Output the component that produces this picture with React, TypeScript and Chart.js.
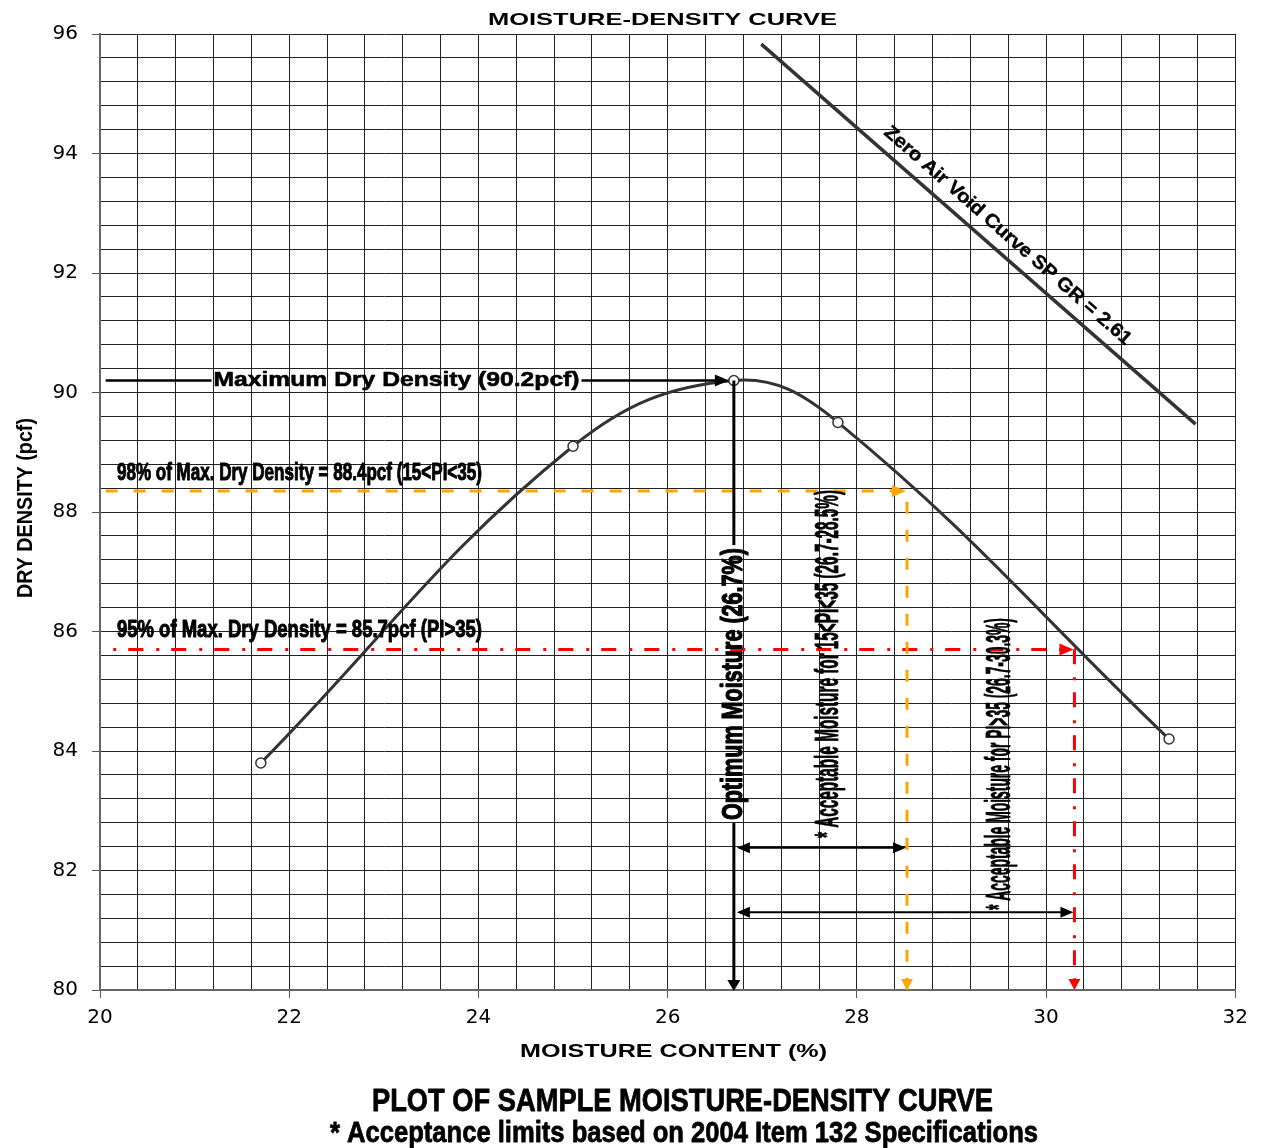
import React, { useEffect, useRef } from 'react';
import { Chart, registerables } from 'chart.js';

Chart.register(...registerables);

// ---- data ----
const moisture = [21.7, 25.0, 26.7, 27.8, 31.3];
const dryDensity = [83.8, 89.1, 90.2, 89.5, 84.2];
const zavMoisture = [26.99, 31.58];
const zavDensity = [95.83, 89.47];
const xTickLabels = [20, 22, 24, 26, 28, 30, 32];
const yTickLabels = [80, 82, 84, 86, 88, 90, 92, 94, 96];
const maxDryDensity = 90.2;
const optimumMoisture = 26.7;
const density98 = 88.35;
const density95 = 85.7;
const moistureLimit98 = 28.53;
const moistureLimit95 = 30.3;
const lineStart98 = 20.06;
const lineStart95 = 20.14;
const maxLineStart = 20.06;
const arrowRowUpper = 82.38;
const arrowRowLower = 81.3;

const FONT = "'Liberation Sans', Arial, Helvetica, sans-serif";
const isMajor = (v: number, list: number[]) => list.some((t) => Math.abs(t - v) < 1e-6);

function fitText(
  ctx: CanvasRenderingContext2D,
  text: string,
  x: number,
  y: number,
  font: string,
  width: number,
  angle = 0,
  align: CanvasTextAlign = 'center',
  baseline: CanvasTextBaseline = 'alphabetic',
  stroke = 0,
  color = '#000'
) {
  ctx.save();
  ctx.font = font;
  const w = ctx.measureText(text).width;
  ctx.translate(x, y);
  ctx.rotate(angle);
  ctx.scale(width / w, 1);
  ctx.textAlign = align;
  ctx.textBaseline = baseline;
  ctx.fillStyle = color;
  ctx.fillText(text, 0, 0);
  if (stroke > 0) {
    ctx.lineWidth = stroke;
    ctx.strokeStyle = color;
    ctx.lineJoin = 'round';
    ctx.strokeText(text, 0, 0);
  }
  ctx.restore();
}

function arrowHead(ctx: CanvasRenderingContext2D, x: number, y: number, angle: number, len: number, half: number, color: string) {
  ctx.save();
  ctx.translate(x, y);
  ctx.rotate(angle);
  ctx.beginPath();
  ctx.moveTo(0, 0);
  ctx.lineTo(-len, -half);
  ctx.lineTo(-len, half);
  ctx.closePath();
  ctx.fillStyle = color;
  ctx.fill();
  ctx.restore();
}

function seg(ctx: CanvasRenderingContext2D, x1: number, y1: number, x2: number, y2: number, w: number, color: string) {
  ctx.save();
  ctx.beginPath();
  ctx.moveTo(x1, y1);
  ctx.lineTo(x2, y2);
  ctx.lineWidth = w;
  ctx.strokeStyle = color;
  ctx.lineCap = 'butt';
  ctx.stroke();
  ctx.restore();
}

const annotations = {
  id: 'annotations',
  afterDatasetsDraw(chart: any) {
    const ctx: CanvasRenderingContext2D = chart.ctx;
    const xs = chart.scales.x;
    const ys = chart.scales.y;
    const px = (v: number) => xs.getPixelForValue(v);
    const py = (v: number) => ys.getPixelForValue(v);

    // orange / red arrow heads
    arrowHead(ctx, px(moistureLimit98) - 1, py(density98), 0, 14, 6, '#FFA500');
    arrowHead(ctx, px(moistureLimit98), py(80), Math.PI / 2, 11, 6, '#FFA500');
    arrowHead(ctx, px(moistureLimit95) - 1, py(density95), 0, 14, 6, '#FF0000');
    arrowHead(ctx, px(moistureLimit95), py(80), Math.PI / 2, 11, 6, '#FF0000');

    // Maximum dry density arrow with label
    const maxY = py(maxDryDensity);
    const labelFont = `bold 21px ${FONT}`;
    const labelLeft = px(21.2);
    const labelW = 366;
    seg(ctx, px(maxLineStart), maxY, labelLeft - 2, maxY, 2.5, '#000');
    seg(ctx, labelLeft + labelW + 2, maxY, px(optimumMoisture) - 16, maxY, 2.5, '#000');
    arrowHead(ctx, px(optimumMoisture) - 5, maxY, 0, 14, 6, '#000');
    fitText(ctx, 'Maximum Dry Density (90.2pcf)', labelLeft, maxY, labelFont, labelW, 0, 'left', 'middle', 0.6);

    // Optimum moisture vertical arrow with label
    const ox = px(optimumMoisture);
    const oCenter = py(85.12);
    const oLen = 272;
    seg(ctx, ox, maxY, ox, oCenter - oLen / 2 - 3, 3, '#000');
    seg(ctx, ox, oCenter + oLen / 2 + 3, ox, py(80) - 8, 3, '#000');
    arrowHead(ctx, ox, py(80) + 1, Math.PI / 2, 11, 6.5, '#000');
    fitText(ctx, 'Optimum Moisture (26.7%)', px(26.781), oCenter, `bold 30px ${FONT}`, oLen, -Math.PI / 2, 'center', 'alphabetic', 1.2);

    // double arrows for acceptable ranges
    const yU = py(arrowRowUpper);
    const yL = py(arrowRowLower);
    const leftTip = ox + 3;
    seg(ctx, leftTip + 10, yU, px(moistureLimit98) - 12, yU, 2, '#000');
    arrowHead(ctx, leftTip, yU, Math.PI, 13, 5.5, '#000');
    arrowHead(ctx, px(moistureLimit98) - 1, yU, 0, 13, 5.5, '#000');
    seg(ctx, leftTip + 10, yL, px(moistureLimit95) - 12, yL, 2, '#000');
    arrowHead(ctx, leftTip, yL, Math.PI, 13, 5.5, '#000');
    arrowHead(ctx, px(moistureLimit95) - 1, yL, 0, 13, 5.5, '#000');

    fitText(ctx, '* Acceptable Moisture for 15<PI<35 (26.7-28.5%)', px(27.803), py(85.456), `bold 33px ${FONT}`, 348, -Math.PI / 2, 'center', 'alphabetic', 0.8);
    fitText(ctx, '* Acceptable Moisture for PI>35 (26.7-30.3%)', px(29.617), py(83.782), `bold 35px ${FONT}`, 292, -Math.PI / 2, 'center', 'alphabetic', 0.8);

    // limit labels
    fitText(ctx, '98% of Max. Dry Density = 88.4pcf (15<PI<35)', px(20.179), py(88.536), `bold 24px ${FONT}`, 365, 0, 'left', 'alphabetic', 1);
    fitText(ctx, '95% of Max. Dry Density = 85.7pcf (PI>35)', px(20.179), py(85.908), `bold 24px ${FONT}`, 365, 0, 'left', 'alphabetic', 1);

    // zero air void label along the line
    const x1 = px(zavMoisture[0]);
    const y1 = py(zavDensity[0]);
    const x2 = px(zavMoisture[1]);
    const y2 = py(zavDensity[1]);
    const len = Math.hypot(x2 - x1, y2 - y1);
    const ux = (x2 - x1) / len;
    const uy = (y2 - y1) / len;
    const t = 0.54 * len;
    const cx = x1 + ux * t + uy * 18;
    const cy = y1 + uy * t - ux * 18;
    fitText(ctx, 'Zero Air Void Curve SP GR = 2.61', cx, cy, `bold 19px ${FONT}`, 322, Math.atan2(y2 - y1, x2 - x1), 'center', 'middle', 0.4);
  },
  afterDraw(chart: any) {
    const ctx: CanvasRenderingContext2D = chart.ctx;
    fitText(ctx, 'MOISTURE-DENSITY CURVE', 654.5, 17, `bold 17px ${FONT}`, 349);
    fitText(ctx, 'MOISTURE CONTENT (%)', 665.5, 1049, `bold 19px ${FONT}`, 307);
    fitText(ctx, 'DRY DENSITY (pcf)', 24, 500, `bold 22px ${FONT}`, 180, -Math.PI / 2, 'center', 'alphabetic');
    fitText(ctx, 'PLOT OF SAMPLE MOISTURE-DENSITY CURVE', 674.5, 1103, `bold 32px ${FONT}`, 621, 0, 'center', 'alphabetic', 0.8);
    fitText(ctx, '* Acceptance limits based on 2004 Item 132 Specifications', 676, 1134, `bold 30px ${FONT}`, 708, 0, 'center', 'alphabetic', 0.8);
  },
};

export default function App() {
  const ref = useRef<HTMLCanvasElement>(null);
  useEffect(() => {
    const chart = new Chart(ref.current as HTMLCanvasElement, {
      type: 'line',
      data: {
        datasets: [
          {
            label: 'Moisture-density',
            data: moisture.map((m, i) => ({ x: m, y: dryDensity[i] })),
            borderColor: '#333',
            borderWidth: 3,
            tension: 0.4,
            pointRadius: 5,
            pointBackgroundColor: '#fff',
            pointBorderColor: '#333',
            pointBorderWidth: 1.5,
          },
          {
            label: 'Zero air void',
            data: zavMoisture.map((m, i) => ({ x: m, y: zavDensity[i] })),
            borderColor: '#333',
            borderWidth: 3.5,
            pointRadius: 0,
          },
          {
            label: '98%',
            data: [
              { x: lineStart98, y: density98 },
              { x: moistureLimit98, y: density98 },
              { x: moistureLimit98, y: 80 },
            ],
            borderColor: '#FFA500',
            borderWidth: 3,
            borderDash: [12, 16],
            pointRadius: 0,
          },
          {
            label: '95%',
            data: [
              { x: lineStart95, y: density95 },
              { x: moistureLimit95, y: density95 },
              { x: moistureLimit95, y: 80 },
            ],
            borderColor: '#FF0000',
            borderWidth: 3,
            borderDash: [3, 12, 15, 13],
            pointRadius: 0,
          },
        ],
      },
      options: {
        animation: false,
        responsive: true,
        maintainAspectRatio: false,
        layout: { padding: { top: 26, right: 18, bottom: 0, left: 0 } },
        plugins: { legend: { display: false }, tooltip: { enabled: false }, title: { display: false } },
        scales: {
          x: {
            type: 'linear',
            min: 20,
            max: 32,
            afterFit: (s: any) => {
              s.height = 158;
            },
            ticks: {
              stepSize: 0.4,
              autoSkip: false,
              maxRotation: 0,
              padding: 8,
              color: '#000',
              font: { family: 'DejaVu Sans', size: 20 },
              callback: (v: any) => (isMajor(Number(v), xTickLabels) ? String(Math.round(Number(v))) : ''),
            },
            grid: {
              color: '#222',
              lineWidth: 1,
              tickLength: 8,
              tickColor: (c: any) => (c.tick && isMajor(c.tick.value, xTickLabels) ? '#555' : 'rgba(0,0,0,0)'),
            },
            border: { color: '#666', width: 2 },
          },
          y: {
            type: 'linear',
            min: 80,
            max: 96,
            afterFit: (s: any) => {
              s.width = 92;
            },
            ticks: {
              stepSize: 0.4,
              autoSkip: false,
              padding: 14,
              color: '#000',
              font: { family: 'DejaVu Sans', size: 20 },
              callback: (v: any) => (isMajor(Number(v), yTickLabels) ? String(Math.round(Number(v))) : ''),
            },
            grid: {
              color: '#222',
              lineWidth: 1,
              tickLength: 8,
              tickColor: (c: any) => (c.tick && isMajor(c.tick.value, yTickLabels) ? '#555' : 'rgba(0,0,0,0)'),
            },
            border: { color: '#666', width: 2 },
          },
        },
      },
      plugins: [annotations],
    } as any);
    return () => chart.destroy();
  }, []);
  return (
    <div style={{ position: 'relative', width: 1248, height: 1140 }}>
      <canvas ref={ref} />
    </div>
  );
}
